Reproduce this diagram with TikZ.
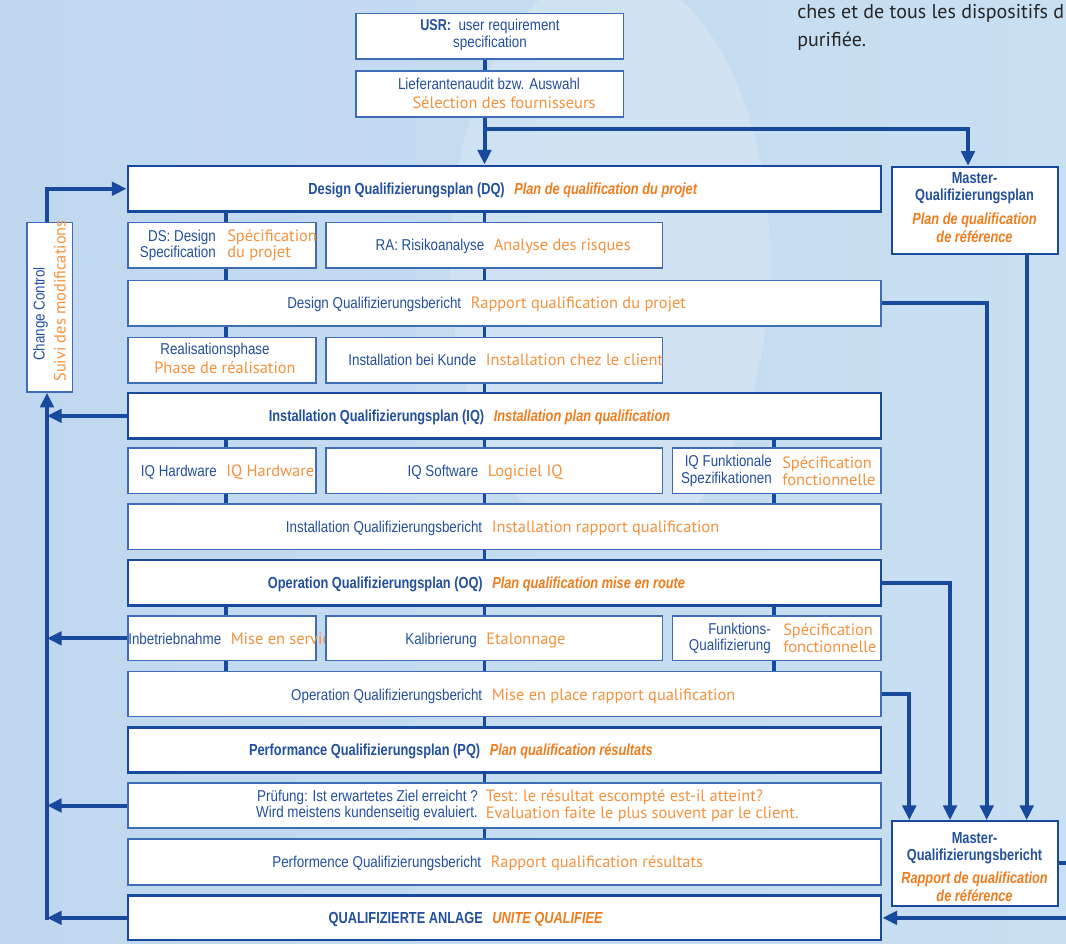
\documentclass[tikz,border=0pt]{standalone}
\usepackage{fontspec}
\setmainfont{Liberation Sans}
\newfontfamily\defont{Liberation Sans}[FakeStretch=0.85]
\newfontfamily\debfont{Liberation Sans}[FakeStretch=0.8]
\newfontfamily\frfont{PT Sans}
\usetikzlibrary{arrows.meta,calc,fit}

\definecolor{bgleft}{HTML}{C0D8EF}
\definecolor{bgmid}{HTML}{D6E8F6}
\definecolor{bgright}{HTML}{C9DFF2}
\definecolor{deblue}{HTML}{22509E}
\definecolor{lineblue}{HTML}{17499D}
\definecolor{cellblue}{HTML}{3E6DB5}
\definecolor{frorange}{HTML}{F5923E}
\definecolor{frbold}{HTML}{EF7D1E}

\tikzset{
  plan/.style={draw=lineblue, line width=2.2pt, fill=white, inner sep=0pt},
  cell/.style={draw=cellblue, line width=1.1pt, fill=white, inner sep=0pt},
  txtde/.style={text=deblue, inner sep=0pt, font=\defont\fontsize{11.8}{12.5}\selectfont},
  txtfr/.style={text=frorange, inner sep=0pt, font=\frfont\fontsize{12.3}{12.5}\selectfont},
  plande/.style={text=deblue, inner sep=0pt, font=\debfont\bfseries\fontsize{12}{12.5}\selectfont},
  planfr/.style={text=frbold, inner sep=0pt, font=\debfont\bfseries\itshape\fontsize{12}{13.5}\selectfont},
  link/.style={draw=lineblue, line width=3pt},
  arr/.style={link, -{Triangle[length=11pt, width=10pt]}},
  stub/.style={draw=lineblue, line width=2.4pt},
}

% german text ends left of the split, french starts right of it
\newcommand{\pair}[6]{%
  \node[#2de, anchor=base east] (#1de) at (#3-4.5,#4) {#5};
  \node[#2fr, anchor=base west] (#1fr) at (#3+4.5,#4) {#6};
}

\begin{document}
\begin{tikzpicture}[x=0.75pt, y=-0.75pt]
\useasboundingbox (0,0) rectangle (1066,944);
\shade[left color=bgleft, middle color=bgmid, right color=bgright] (0,0) rectangle (1066,944);
\fill[white, opacity=0.2] (610,260) ellipse [x radius=160, y radius=290];

% intro text of the page
\node[anchor=base west, inner sep=0pt, text=black!85, font=\frfont\fontsize{15}{15}\selectfont] (intro1) at (797,19) {ches et de tous les dispositifs d};
\node[anchor=base west, inner sep=0pt, text=black!85, font=\frfont\fontsize{15}{15}\selectfont] (intro2) at (797,47) {purifiée.};

% start
\node[cell, fit={(356,13.3) (623.7,59)}] (usr) {};
\node[txtde, align=center] (usrtxt) at (490,35) {{\debfont\bfseries USR:} \ user requirement\\specification};
\node[cell, fit={(356,71) (623.7,117)}] (lief) {};
\node[txtde] (liefde) at (489,83.5) {Lieferantenaudit bzw. Auswahl};
\node[txtfr] (lieffr) at (504,103) {Sélection des fournisseurs};

% master boxes
\node[cell, draw=lineblue, line width=1.3pt, fit={(891.7,166.7) (1057.7,254)}] (mplan) {};
\node[plande, align=center] (mplande) at (974.5,188.5) {Master-\\Qualifizierungsplan};
\node[planfr, align=center] (mplanfr) at (974.5,228) {Plan de qualification\\de référence};
\node[cell, draw=lineblue, line width=1.3pt, fit={(891.7,821) (1057.7,905.7)}] (mber) {};
\node[plande, align=center] (mberde) at (974.5,848.5) {Master-\\Qualifizierungsbericht};
\node[planfr, align=center] (mberfr) at (974.5,887) {Rapport de qualification\\de référence};

% change control
\node[cell, fit={(27,222.7) (72.5,392)}] (cc) {};
\node[txtde, rotate=90] (ccde) at (40.5,314) {Change Control};
\node[txtfr, rotate=90] (ccfr) at (60,301) {Suivi des modifications};

% DQ
\node[plan, fit={(128,166) (881,211.5)}] (dq) {};
\pair{dq}{plan}{509.5}{194.5}{Design Qualifizierungsplan (DQ)}{Plan de qualification du projet}
\node[cell, fit={(128,222.7) (316,268)}] (ds) {};
\node[txtde, align=right, anchor=east] (dsde) at (216,245.5) {DS: Design\\Specification};
\node[txtfr, align=left, anchor=west] (dsfr) at (227,245.5) {Spécification\\du projet};
\node[cell, fit={(326,222.7) (662.7,268)}] (ra) {};
\pair{ra}{txt}{489}{251}{RA: Risikoanalyse}{Analyse des risques}
\node[cell, fit={(128,280.7) (881,326)}] (dqb) {};
\pair{dqb}{txt}{466}{309}{Design Qualifizierungsbericht}{Rapport qualification du projet}
\node[cell, fit={(128,337.7) (316,383)}] (real) {};
\node[txtde] (realde) at (215,350) {Realisationsphase};
\node[txtfr] (realfr) at (225,368) {Phase de réalisation};
\node[cell, fit={(326,337.7) (662.7,383)}] (kunde) {};
\pair{kunde}{txt}{481}{366}{Installation bei Kunde}{Installation chez le client}

% IQ
\node[plan, fit={(128,393) (881,438.7)}] (iq) {};
\pair{iq}{plan}{489}{421.5}{Installation Qualifizierungsplan (IQ)}{Installation plan qualification}
\node[cell, fit={(128,448) (316,493.5)}] (iqhw) {};
\pair{iqhw}{txt}{221.5}{476.5}{IQ Hardware}{IQ Hardware}
\node[cell, fit={(326,448) (662.7,493.5)}] (iqsw) {};
\pair{iqsw}{txt}{483}{476.5}{IQ Software}{Logiciel IQ}
\node[cell, fit={(672.7,448) (881,493.5)}] (iqfs) {};
\node[txtde, align=right, anchor=east] (iqfsde) at (772,471) {IQ Funktionale\\Spezifikationen};
\node[txtfr, align=left, anchor=west] (iqfsfr) at (782,471) {Spécification\\fonctionnelle};
\node[cell, fit={(128,504) (881,549.5)}] (iqb) {};
\pair{iqb}{txt}{487}{532.5}{Installation Qualifizierungsbericht}{Installation rapport qualification}

% OQ
\node[plan, fit={(128,560) (881,605.3)}] (oq) {};
\pair{oq}{plan}{487.5}{588.5}{Operation Qualifizierungsplan (OQ)}{Plan qualification mise en route}
\node[cell, fit={(128,616) (316,660.7)}] (inb) {};
\pair{inb}{txt}{226}{644}{Inbetriebnahme}{Mise en service}
\node[cell, fit={(326,616) (662.7,660.7)}] (kal) {};
\pair{kal}{txt}{481.5}{644}{Kalibrierung}{Etalonnage}
\node[cell, fit={(672.7,616) (881,660.7)}] (fq) {};
\node[txtde, align=right, anchor=east] (fqde) at (771,638.5) {Funktions-\\Qualifizierung};
\node[txtfr, align=left, anchor=west] (fqfr) at (783,638.5) {Spécification\\fonctionnelle};
\node[cell, fit={(128,671.7) (881,716.7)}] (oqb) {};
\pair{oqb}{txt}{487}{700}{Operation Qualifizierungsbericht}{Mise en place rapport qualification}

% PQ
\node[plan, fit={(128,727.7) (881,772.3)}] (pq) {};
\pair{pq}{plan}{485}{755.7}{Performance Qualifizierungsplan (PQ)}{Plan qualification résultats}
\node[cell, fit={(128,783) (881,828)}] (pruef) {};
\node[txtde, align=right, anchor=east] (pruefde) at (478,805.5) {Prüfung: Ist erwartetes Ziel erreicht ?\\Wird meistens kundenseitig evaluiert.};
\node[txtfr, align=left, anchor=west] (prueffr) at (485.5,805.5) {Test: le résultat escompté est-il atteint?\\Evaluation faite le plus souvent par le client.};
\node[cell, fit={(128,839) (881,885)}] (pqb) {};
\pair{pqb}{txt}{486}{867.7}{Performence Qualifizierungsbericht}{Rapport qualification résultats}
\node[plan, fit={(128,895.7) (881,940)}] (qa) {};
\pair{qa}{plan}{487.7}{923.5}{QUALIFIZIERTE ANLAGE}{UNITE QUALIFIEE}

% columns of the stubs and of the long lines
\coordinate (colA) at (226,0);
\coordinate (colB) at (484.5,0);
\coordinate (colC) at (774,0);
\coordinate (fork) at (484.5,129);
\coordinate (mtop) at (968,0);
\coordinate (rA) at (909.3,0);
\coordinate (rB) at (950,0);
\coordinate (rC) at (986.7,0);
\coordinate (rD) at (1026.7,0);
\coordinate (rE) at (1069,0);
\coordinate (lx) at (47,0);

\draw[link] (colB |- usr.south) -- (colB |- lief.north);
\draw[arr] (colB |- lief.south) -- (colB |- dq.north);
\draw[arr] (fork) -| (mtop |- mplan.north);

\foreach \a/\b in {dq/ds, ds/dqb, dqb/real, iq/iqhw, iqhw/iqb, oq/inb, inb/oqb}
  \draw[stub] (colA |- \a.south) -- (colA |- \b.north);
\foreach \a/\b in {dq/ra, ra/dqb, dqb/kunde, kunde/iq, iq/iqsw, iqsw/iqb, iqb/oq, oq/kal, kal/oqb, oqb/pq, pq/pruef, pruef/pqb}
  \draw[stub] (colB |- \a.south) -- (colB |- \b.north);
\foreach \a/\b in {iq/iqfs, iqfs/iqb, oq/fq, fq/oqb}
  \draw[stub] (colC |- \a.south) -- (colC |- \b.north);

% reports to the master report
\draw[arr] (oqb.east) -| (rA |- mber.north);
\draw[arr] (oq.east) -| (rB |- mber.north);
\draw[arr] (dqb.east) -| (rC |- mber.north);
\draw[arr] (rD |- mplan.south) -- (rD |- mber.north);
\draw[arr] (mber.east) -- (rE |- mber.east) -- (rE |- qa.east) -- (qa.east);

% change control loop
\draw[arr] (lx |- cc.north) |- (dq.west);
\draw[arr] ($(lx |- qa.west)+(0,2)$) -- (lx |- cc.south);
\foreach \n in {iq, inb, pruef, qa}
  \draw[arr] (\n.west) -- (lx |- \n.west);
\end{tikzpicture}
\end{document}
